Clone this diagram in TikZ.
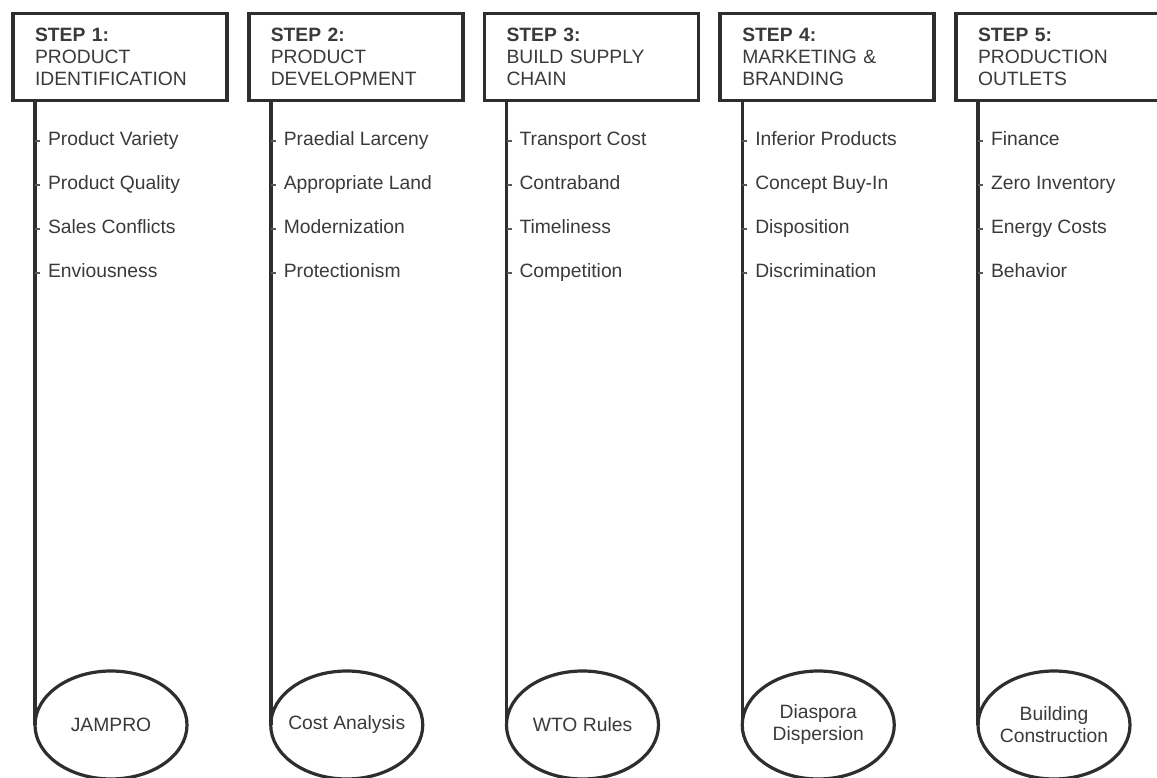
\documentclass[tikz,border=0pt]{standalone}
\usepackage{fontspec}
\setmainfont{Liberation Sans}
\usetikzlibrary{shapes.geometric,calc}
\definecolor{ink}{HTML}{2E2E2E}
\definecolor{txt}{HTML}{3A3A3A}

% one column: #1 index, #2 header text, #3 list of issues, #4 goal text
\newcommand{\stepcol}[4]{%
  \pgfmathsetmacro\cx{35+235.75*(#1-1)}
  \node[stepbox] (b#1) at (\cx+85,57) {#2};
  \node[goalnode] (e#1) at (\cx+76,725) {};
  \node[goaltext] (g#1) at (e#1.center) {#4};
  \draw[stem] ($(b#1.south west)+(22,0)$) -- (e#1.west);
  \foreach \t [count=\k] in {#3} {
    \node[item] (i#1-\k) at (\cx+13,146+44*\k-44) {\t};
    \draw[tick] ([xshift=-13pt]i#1-\k.west) -- ([xshift=-8pt]i#1-\k.west);
  }
}

\begin{document}
\begin{tikzpicture}[x=1pt,y=-1pt,
  every node/.style={font=\fontsize{19.3}{22}\selectfont, text=txt, outer sep=0pt},
  stepbox/.style={draw=ink, line width=3.8pt, rectangle, fill=white,
    minimum width=214pt, minimum height=87pt, inner xsep=22pt, inner ysep=0pt,
    text width=170pt, align=left},
  goalnode/.style={draw=ink, line width=3.2pt, ellipse, fill=white,
    minimum width=152pt, minimum height=108pt, inner sep=0pt},
  goaltext/.style={inner sep=0pt, align=center},
  stem/.style={draw=ink, line width=3.5pt},
  tick/.style={draw=ink!80, line width=1.5pt},
  item/.style={anchor=base west, inner sep=0pt, text height=14pt, text depth=4pt}]
\useasboundingbox (0,0) rectangle (1157,778);
\clip (0,0) rectangle (1157,778);

\stepcol{1}{\textbf{STEP 1:}\\PRODUCT\\IDENTIFICATION}
  {Product Variety, Product Quality, Sales Conflicts, Enviousness}{JAMPRO}
\stepcol{2}{\textbf{STEP 2:}\\PRODUCT\\DEVELOPMENT}
  {Praedial Larceny, Appropriate Land, Modernization, Protectionism}{Cost Analysis}
\stepcol{3}{\textbf{STEP 3:}\\BUILD SUPPLY\\CHAIN}
  {Transport Cost, Contraband, Timeliness, Competition}{WTO Rules}
\stepcol{4}{\textbf{STEP 4:}\\MARKETING \&\\BRANDING}
  {Inferior Products, Concept Buy-In, Disposition, Discrimination}{Diaspora\\Dispersion}
\stepcol{5}{\textbf{STEP 5:}\\PRODUCTION\\OUTLETS}
  {Finance, Zero Inventory, Energy Costs, Behavior}{Building\\Construction}
\end{tikzpicture}
\end{document}
